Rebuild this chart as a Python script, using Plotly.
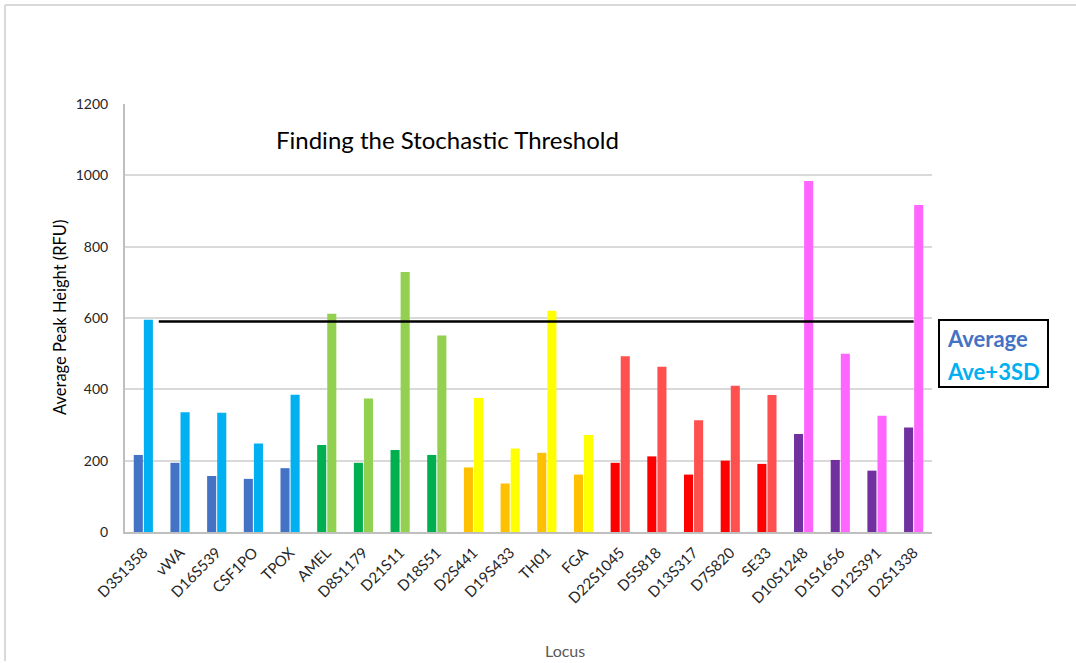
import plotly.graph_objects as go

# STR loci and peak-height statistics (RFU)
loci = ["D3S1358", "vWA", "D16S539", "CSF1PO", "TPOX",
        "AMEL", "D8S1179", "D21S11", "D18S51",
        "D2S441", "D19S433", "TH01", "FGA",
        "D22S1045", "D5S818", "D13S317", "D7S820", "SE33",
        "D10S1248", "D1S1656", "D12S391", "D2S1338"]
average = [216, 194, 157, 149, 179,
           244, 194, 230, 216,
           181, 136, 222, 161,
           194, 212, 161, 200, 191,
           275, 202, 172, 293]
ave_3sd = [595, 336, 334, 248, 385,
           612, 374, 729, 551,
           376, 234, 620, 272,
           493, 463, 313, 410, 384,
           984, 500, 326, 917]
# dye channel of each locus
dye = ["blue"] * 5 + ["green"] * 4 + ["yellow"] * 4 + ["red"] * 5 + ["purple"] * 4
threshold = 590

avg_colors = {"blue": "#4472C4", "green": "#00B050", "yellow": "#FFC000",
              "red": "#FF0000", "purple": "#7030A0"}
sd_colors = {"blue": "#00B0F0", "green": "#92D050", "yellow": "#FFFF00",
             "red": "#FF5050", "purple": "#FF66FF"}

idx = list(range(len(loci)))
FONT = "Lato, 'Open Sans', sans-serif"

fig = go.Figure()
fig.add_trace(go.Bar(x=idx, y=average, name="Average",
                     marker=dict(color=[avg_colors[d] for d in dye], line_width=0)))
fig.add_trace(go.Bar(x=idx, y=ave_3sd, name="Ave+3SD",
                     marker=dict(color=[sd_colors[d] for d in dye], line_width=0)))
# stochastic threshold line
fig.add_trace(go.Scatter(x=[0.42, len(loci) - 1], y=[threshold, threshold], mode="lines",
                         line=dict(color="black", width=2.5), showlegend=False,
                         hoverinfo="skip"))

# plot-area geometry in pixels
W, H = 1076, 663
L, R, T, B = 125, 932, 104, 532
pw, ph = R - L, B - T

def px(x):
    return (x - L) / pw

def py(y):
    return (B - y) / ph

shapes = [
    # outer chart frame (left and top edges)
    dict(type="line", xref="paper", yref="paper", x0=px(5), x1=px(5),
         y0=py(661), y1=py(5), line=dict(color="#D9D9D9", width=2)),
    dict(type="line", xref="paper", yref="paper", x0=px(5), x1=px(1080),
         y0=py(5), y1=py(5), line=dict(color="#D9D9D9", width=2)),
    # legend box
    dict(type="rect", xref="paper", yref="paper", x0=px(939), x1=px(1048),
         y0=py(387), y1=py(320), line=dict(color="black", width=2),
         fillcolor="white"),
]

annotations = [
    dict(text="Finding the Stochastic Threshold", xref="paper", yref="paper",
         x=px(447), y=py(139), showarrow=False, xanchor="center", yanchor="middle",
         font=dict(family=FONT, size=24, color="black")),
    dict(text="Average Peak Height (RFU)", xref="paper", yref="paper",
         x=px(60), y=py(318), showarrow=False, textangle=-90,
         xanchor="center", yanchor="middle",
         font=dict(family=FONT, size=16.5, color="black")),
    dict(text="Locus", xref="paper", yref="paper", x=px(565), y=py(650),
         showarrow=False, xanchor="center", yanchor="middle",
         font=dict(family=FONT, size=16, color="#595959")),
    dict(text="<b>Average</b>", xref="paper", yref="paper", x=px(945), y=py(338),
         showarrow=False, xanchor="left", yanchor="middle",
         font=dict(family=FONT, size=22, color="#4472C4")),
    dict(text="<b>Ave+3SD</b>", xref="paper", yref="paper", x=px(945), y=py(371),
         showarrow=False, xanchor="left", yanchor="middle",
         font=dict(family=FONT, size=22, color="#00B0F0")),
]

fig.update_layout(
    width=W, height=H,
    margin=dict(l=L, r=W - R, t=T, b=H - B, autoexpand=False),
    paper_bgcolor="white", plot_bgcolor="white",
    barmode="group", bargap=0.45, bargroupgap=0.1,
    showlegend=False,
    shapes=shapes, annotations=annotations,
    font=dict(family=FONT),
)
fig.update_xaxes(
    range=[-0.5, len(loci) - 0.5], tickmode="array", tickvals=idx, ticktext=loci,
    tickangle=-45, tickfont=dict(family=FONT, size=15, color="#262626"),
    showgrid=False, showline=True, linecolor="#BFBFBF", linewidth=2,
    ticks="outside", ticklen=4, tickcolor="rgba(0,0,0,0)", zeroline=False,
)
fig.update_yaxes(
    range=[0, 1200], tickvals=[0, 200, 400, 600, 800, 1000, 1200],
    tickfont=dict(family=FONT, size=14, color="#262626"),
    showgrid=True, gridcolor="#D9D9D9", gridwidth=1.5,
    showline=True, linecolor="#BFBFBF", linewidth=2,
    ticks="outside", ticklen=12, tickcolor="rgba(0,0,0,0)", zeroline=False,
)

fig.write_html("out.html")
